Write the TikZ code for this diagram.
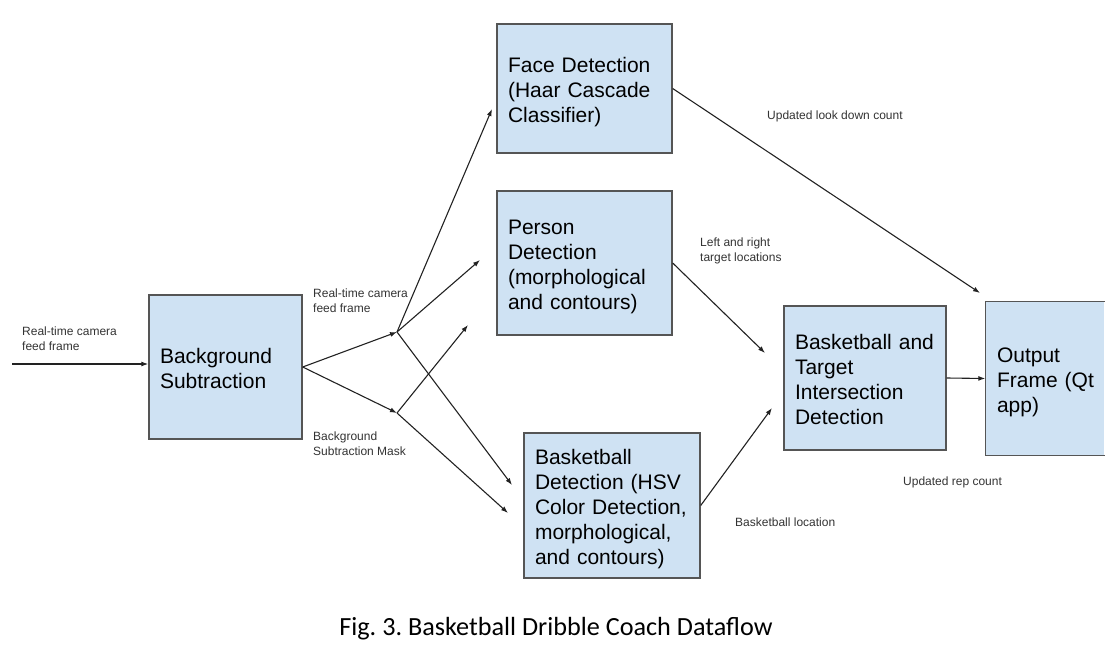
\documentclass[tikz,border=0pt]{standalone}
\usepackage{fontspec}
\setmainfont{Liberation Sans}
\newfontfamily\captionfont{Carlito}
\usetikzlibrary{arrows.meta}
\definecolor{boxfill}{HTML}{CFE2F3}
\definecolor{boxline}{HTML}{555555}
\definecolor{arrowline}{HTML}{222222}
\definecolor{labeltext}{HTML}{333333}
\newcommand\mytopstrut{\rule{0pt}{23pt}}
\newcommand\mybotstrut{\rule[-5pt]{0pt}{5pt}}
\frenchspacing
\begin{document}
\begin{tikzpicture}[x=1pt,y=-1pt,
  procbox/.style={rectangle, draw=boxline, line width=1.4pt, fill=boxfill,
    inner xsep=11pt, inner ysep=0pt, align=left,
    font=\fontsize{21}{25}\selectfont, text=black},
  flowlabel/.style={inner sep=0pt, align=left, anchor=west,
    font=\fontsize{12}{15}\selectfont, text=labeltext},
  flow/.style={draw=arrowline, line width=1.1pt, -{Latex[length=7pt,width=5pt]}}
]
\useasboundingbox (0,0) rectangle (1116,650);

% boxes
\node[procbox, text width=153pt, minimum height=129pt] (face) at (584.5,88.5)
  {\mytopstrut Face Detection\\(Haar Cascade\\Classifier)\mybotstrut};
\node[procbox, text width=153pt, minimum height=144pt] (person) at (584.5,263)
  {\mytopstrut Person\\Detection\\(morphological\\and contours)\mybotstrut};
\node[procbox, text width=154pt, minimum height=145pt] (ball) at (612,505.5)
  {\mytopstrut Basketball\\Detection (HSV\\Color Detection,\\morphological,\\and contours)\mybotstrut};
\node[procbox, text width=131pt, minimum height=144pt] (bg) at (225.5,367)
  {\mytopstrut Background\\Subtraction\mybotstrut};
\node[procbox, text width=140pt, minimum height=144pt] (inter) at (865,378)
  {\mytopstrut Basketball and\\Target\\Intersection\\Detection\mybotstrut};
\node[procbox, draw=none, text width=96pt, minimum height=153pt] (out) at (1045,378.5)
  {\mytopstrut Output\\Frame~(Qt\\app)\mybotstrut};
\draw[boxline, line width=1.4pt] (out.north east) -- (out.north west) -- (out.south west) -- (out.south east);

% coordinates
\coordinate (in) at (12,364);
\coordinate (j1) at (397,332);
\coordinate (j2) at (397,413);
\coordinate (fa) at (492,109);
\coordinate (pa) at (480,260);
\coordinate (pa2) at (468,325);
\coordinate (ba1) at (512,485);
\coordinate (ba2) at (508,513);
\coordinate (oa) at (980,293);
\coordinate (ia1) at (765,353);
\coordinate (ia2) at (772,408);

% connectors
\draw[flow] (in) -- (in -| bg.west);
\draw[flow] (bg.east) -- (j1);
\draw[flow] (bg.east) -- (j2);
\draw[flow] (j1) -- (fa);
\draw[flow] (j1) -- (pa);
\draw[flow] (j1) -- (ba1);
\draw[flow] (j2) -- (pa2);
\draw[flow] (j2) -- (ba2);
\draw[flow] (face.east) -- (oa);
\draw[flow] (person.east) -- (ia1);
\draw[flow] (ball.east) -- (ia2);
\draw[flow] (inter.east) -- (out.west);

% labels
\node[flowlabel] (l1) at (22,338.5) {Real-time camera\\feed frame};
\node[flowlabel] (l2) at (313,300.5) {Real-time camera\\feed frame};
\node[flowlabel] (l3) at (313,444) {Background\\Subtraction Mask};
\node[flowlabel] (l4) at (767,116) {Updated look down count};
\node[flowlabel] (l5) at (700,250.5) {Left and right\\target locations};
\node[flowlabel] (l6) at (903,482) {Updated rep count};
\node[flowlabel] (l7) at (735,522) {Basketball location};

% caption
\node[inner sep=0pt, font=\captionfont\fontsize{26.2}{30}\selectfont] (cap) at (556,629)
  {Fig. 3. Basketball Dribble Coach Dataflow};
\end{tikzpicture}
\end{document}
